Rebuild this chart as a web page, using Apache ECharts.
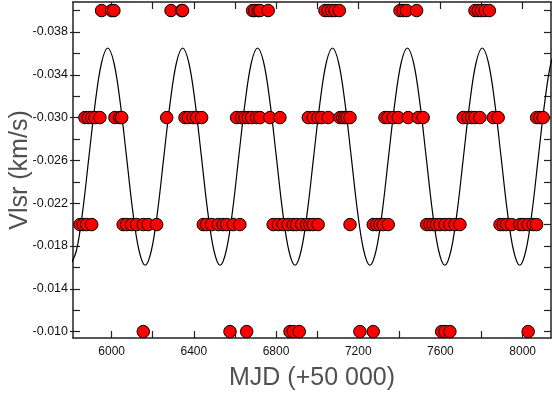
<!DOCTYPE html>
<html>
<head>
<meta charset="utf-8">
<script src="https://cdn.jsdelivr.net/npm/echarts@6/dist/echarts.min.js"></script>
<style>
  html, body { margin: 0; padding: 0; background: #ffffff; }
  #chart { width: 552px; height: 398px; }
</style>
</head>
<body>
<div id="chart"></div>
<script>
// Measured maser velocities (km/s) at four quantised levels, by MJD (+50 000)
const mjdAt040 = [5951, 6000, 6011, 6289, 6341, 6345, 6686, 6697, 6713, 6722, 6762, 7038, 7054, 7071, 7087, 7108, 7403, 7419, 7435, 7484, 7768, 7784, 7800, 7817, 7838];
const mjdAt030 = [5870, 5886, 5903, 5919, 5943, 6016, 6040, 6049, 6268, 6357, 6373, 6397, 6414, 6438, 6608, 6633, 6649, 6665, 6681, 6706, 6722, 6770, 6819, 6957, 6981, 7005, 7022, 7054, 7111, 7124, 7135, 7146, 7160, 7330, 7346, 7370, 7395, 7443, 7492, 7516, 7711, 7735, 7752, 7768, 7792, 7857, 7881, 8068, 8084, 8100];
const mjdAt020 = [5846, 5862, 5878, 5903, 6056, 6073, 6097, 6122, 6154, 6178, 6219, 6446, 6462, 6487, 6519, 6543, 6560, 6592, 6624, 6786, 6811, 6835, 6859, 6884, 6900, 6925, 6949, 6965, 6981, 7005, 7160, 7273, 7290, 7306, 7322, 7346, 7533, 7549, 7565, 7581, 7598, 7622, 7646, 7671, 7695, 7890, 7906, 7922, 7946, 7987, 8003, 8027, 8052, 8068];
const mjdAt010 = [6154, 6576, 6657, 6868, 6884, 6913, 7208, 7273, 7606, 7622, 7646, 8027];
const levels = [-0.040, -0.030, -0.020, -0.010];

// Annual model curve, read at regular steps
const curveMjd = [5798.8, 5829.1, 5859.5, 5889.9, 5920.3, 5950.6, 5981.0, 6011.4, 6041.8, 6072.1, 6102.5, 6132.9,
  6163.3, 6193.6, 6224.0, 6254.4, 6284.8, 6315.1, 6345.5, 6375.9, 6406.3, 6436.6, 6467.0, 6497.4,
  6527.8, 6558.1, 6588.5, 6618.9, 6649.3, 6679.6, 6710.0, 6740.4, 6770.8, 6801.1, 6831.5, 6861.9,
  6892.3, 6922.6, 6953.0, 6983.4, 7013.8, 7044.1, 7074.5, 7104.9, 7135.3, 7165.6, 7196.0, 7226.4,
  7256.8, 7287.1, 7317.5, 7347.9, 7378.3, 7408.6, 7439.0, 7469.4, 7499.8, 7530.1, 7560.5, 7590.9,
  7621.3, 7651.6, 7682.0, 7712.4, 7742.8, 7773.1, 7803.5, 7833.9, 7864.3, 7894.6, 7925.0, 7955.4,
  7985.8, 8016.1, 8046.5, 8076.9, 8107.3, 8137.6, 8168.0];
const curveVlsr = [-0.0162, -0.0176, -0.0213, -0.0264, -0.0314, -0.0351, -0.0365, -0.0351, -0.0314, -0.0264, -0.0213, -0.0176,
  -0.0162, -0.0176, -0.0213, -0.0264, -0.0314, -0.0351, -0.0365, -0.0351, -0.0314, -0.0264, -0.0213, -0.0176,
  -0.0162, -0.0176, -0.0213, -0.0264, -0.0314, -0.0351, -0.0365, -0.0351, -0.0314, -0.0264, -0.0213, -0.0176,
  -0.0162, -0.0176, -0.0213, -0.0264, -0.0314, -0.0351, -0.0365, -0.0351, -0.0314, -0.0264, -0.0213, -0.0176,
  -0.0162, -0.0176, -0.0213, -0.0264, -0.0314, -0.0351, -0.0365, -0.0351, -0.0314, -0.0264, -0.0213, -0.0176,
  -0.0162, -0.0176, -0.0213, -0.0264, -0.0314, -0.0351, -0.0365, -0.0351, -0.0314, -0.0264, -0.0213, -0.0176,
  -0.0162, -0.0176, -0.0213, -0.0264, -0.0314, -0.0351, -0.0365];

// Axis ticks and labels
const xTicks = [6000, 6200, 6400, 6600, 6800, 7000, 7200, 7400, 7600, 7800, 8000];
const xLabels = [6000, 6400, 6800, 7200, 7600, 8000];
const yTicks = [-0.040, -0.038, -0.036, -0.034, -0.032, -0.030, -0.028, -0.026, -0.024, -0.022, -0.020, -0.018, -0.016, -0.014, -0.012, -0.010];
const yLabels = [-0.038, -0.034, -0.030, -0.026, -0.022, -0.018, -0.014, -0.010];

const X_MIN = 5812, X_MAX = 8138;
const Y_MIN = -0.0408, Y_MAX = -0.0094;

const FONT = 'Liberation Sans, Arial, sans-serif';
const AXIS_COLOR = '#222';

const rows = [mjdAt040, mjdAt030, mjdAt020, mjdAt010];
const scatterSeries = rows.map((xs, i) => ({
  type: 'scatter',
  xAxisIndex: 0,
  yAxisIndex: 0,
  symbol: 'circle',
  symbolSize: 12.5,
  itemStyle: { color: '#ff0000', borderColor: '#000000', borderWidth: 1, opacity: 1 },
  data: xs.map(x => [x, levels[i]]),
  z: 3
}));

const chart = echarts.init(document.getElementById('chart'), null, { renderer: 'canvas' });

function xAxisDef(pos, withLabels) {
  return {
    type: 'value',
    position: pos,
    min: X_MIN,
    max: X_MAX,
    splitLine: { show: false },
    axisLine: { show: true, onZero: false, lineStyle: { color: AXIS_COLOR, width: 1.5 } },
    axisTick: { show: true, inside: true, length: 7, customValues: xTicks, lineStyle: { color: AXIS_COLOR, width: 1.2 } },
    axisLabel: withLabels
      ? { show: true, customValues: xLabels, fontFamily: FONT, fontSize: 12, color: '#111', margin: 8,
          formatter: v => String(v) }
      : { show: false },
    name: withLabels ? 'MJD (+50 000)' : '',
    nameLocation: 'middle',
    nameGap: 28,
    nameMoveOverlap: false,
    nameTextStyle: { fontFamily: FONT, fontSize: 25, color: '#505050' }
  };
}

function yAxisDef(pos, opts) {
  return Object.assign({
    type: 'value',
    position: pos,
    inverse: true,
    min: Y_MIN,
    max: Y_MAX,
    splitLine: { show: false },
    axisLine: { show: true, onZero: false, lineStyle: { color: AXIS_COLOR, width: 1.5 } },
    axisTick: { show: true, inside: true, length: 7, customValues: yTicks, lineStyle: { color: AXIS_COLOR, width: 1.2 } },
    axisLabel: { show: false }
  }, opts);
}

chart.setOption({
  animation: false,
  backgroundColor: '#ffffff',
  grid: { left: 73, right: 1, top: 2, bottom: 60, containLabel: false, outerBoundsMode: 'none' },
  xAxis: [xAxisDef('bottom', true), xAxisDef('top', false)],
  yAxis: [
    yAxisDef('left', {
      axisLabel: {
        show: true, customValues: yLabels, fontFamily: FONT, fontSize: 12.5, color: '#111', margin: 5,
        formatter: v => v.toFixed(3)
      },
      name: 'Vlsr (km/s)',
      nameLocation: 'middle',
      nameGap: 40,
      nameMoveOverlap: false,
      nameTextStyle: { fontFamily: FONT, fontSize: 25, color: '#505050' }
    }),
    yAxisDef('right', {}),
    // short outward marks at labelled values on the left axis
    yAxisDef('left', {
      axisLine: { show: false },
      axisTick: { show: true, inside: false, length: 3, customValues: yLabels, lineStyle: { color: AXIS_COLOR, width: 1.2 } }
    })
  ],
  series: [
    {
      type: 'line',
      xAxisIndex: 0,
      yAxisIndex: 0,
      data: curveMjd.map((x, i) => [x, curveVlsr[i]]),
      smooth: 0.35,
      symbol: 'none',
      clip: true,
      lineStyle: { color: '#000000', width: 1.2 },
      z: 2
    }
  ].concat(scatterSeries)
});
</script>
</body>
</html>
